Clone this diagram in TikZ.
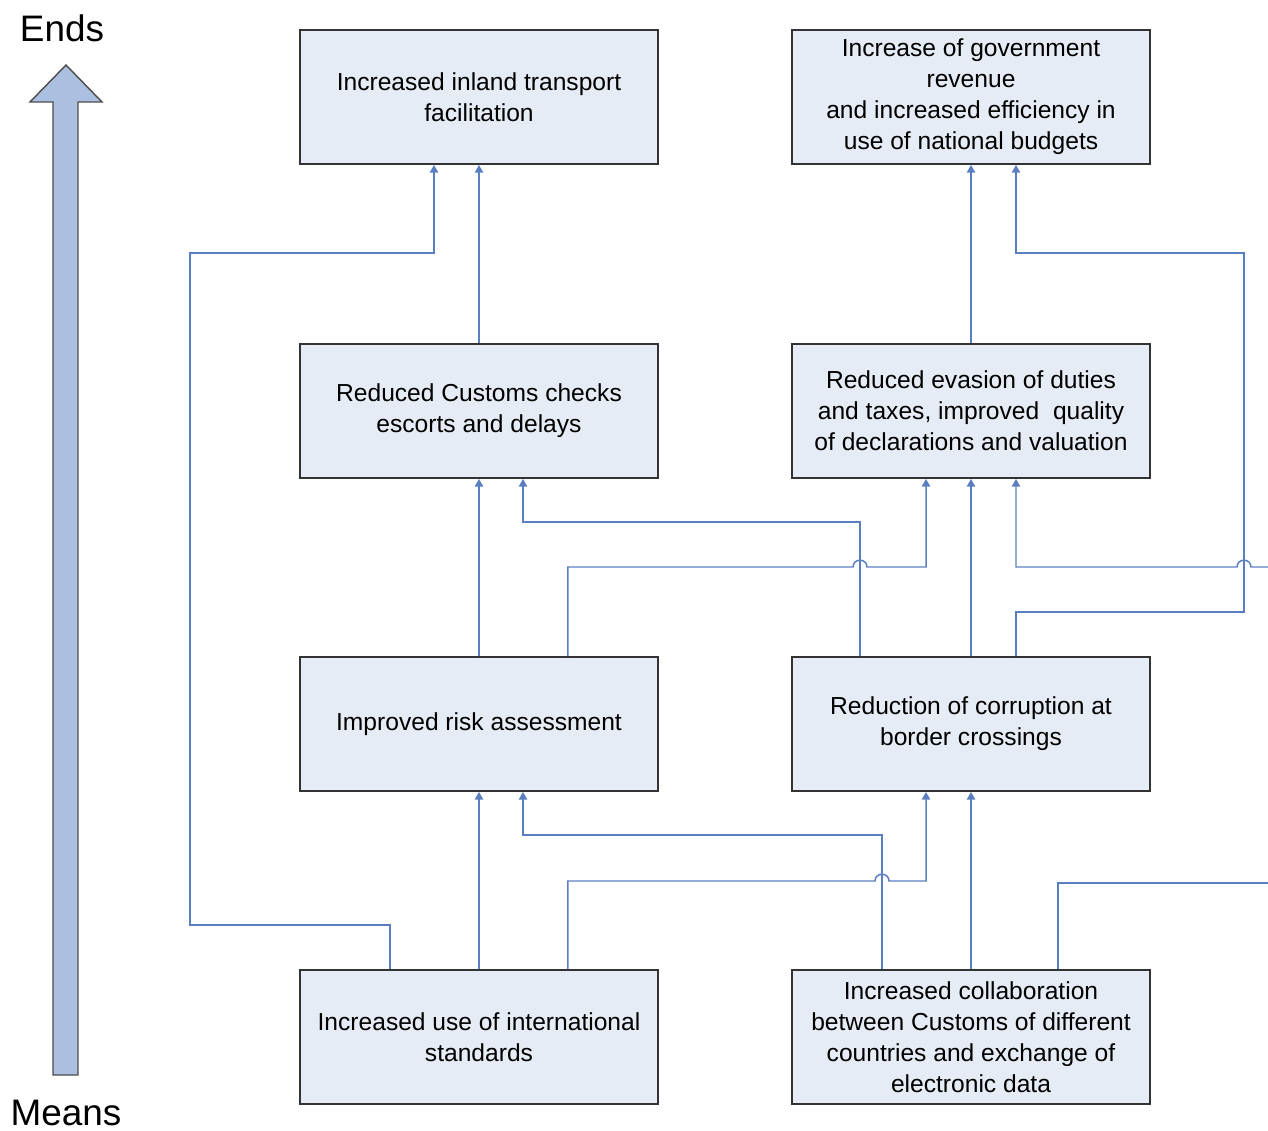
\documentclass[tikz,border=0pt]{standalone}
\usepackage{fontspec}
\setmainfont{Liberation Sans}
\usetikzlibrary{arrows.meta}

\definecolor{boxfill}{HTML}{E6ECF5}
\definecolor{linkblue}{HTML}{5A7FC0}
\definecolor{bigarrow}{HTML}{ABC0E0}

\tikzset{
  goal/.style={draw=black!80, line width=1.1pt, fill=boxfill, rectangle,
    minimum width=7.16cm, minimum height=2.68cm, align=center,
    font=\fontsize{14}{17.6}\selectfont},
  link/.style={draw=linkblue, line width=0.85pt,
    -{Triangle[width=4.8pt,length=4.4pt]}},
  plain/.style={draw=linkblue, line width=0.85pt},
  axis/.style={inner sep=0pt, font=\fontsize{21}{24}\selectfont}
}

\begin{document}
\begin{tikzpicture}[x=0.02cm, y=-0.02cm]
\useasboundingbox (0,0) rectangle (1268,1131);

% Ends / means arrow
\node[axis] (ends) at (62,28) {Ends};
\node[axis] (means) at (66,1113) {Means};
\draw[draw=black!70, line width=0.8pt, fill=bigarrow]
  (53,1075) -- (53,102) -- (30,102) -- (66,65) -- (102,102) -- (78,102) -- (78,1075) -- cycle;

% Ends
\node[goal] (transport) at (479,97) {Increased inland transport\\facilitation};
\node[goal] (revenue) at (971,97) {Increase of government\\revenue\\and increased efficiency in\\use of national budgets};

% Intermediate results
\node[goal] (checks) at (479,411) {Reduced Customs checks\\escorts and delays};
\node[goal] (evasion) at (971,411) {Reduced evasion of duties\\and taxes, improved\ \ quality\\of declarations and valuation};
\node[goal] (risk) at (479,724) {Improved risk assessment};
\node[goal] (corrupt) at (971,724) {Reduction of corruption at\\border crossings};

% Means
\node[goal] (standards) at (479,1037) {Increased use of international\\standards};
\node[goal] (collab) at (971,1037) {Increased collaboration\\between Customs of different\\countries and exchange of\\electronic data};

% Free ends at the right edge
\coordinate (edgelow) at (1268,883);
\coordinate (edgehigh) at (1268,567);

% Links into the top row
\draw[link] ([xshift=-1.78cm]standards.north) |- (190,925) -- (190,253) -| ([xshift=-0.9cm]transport.south);
\draw[link] (checks.north) -- (transport.south);
\draw[link] (evasion.north) -- (revenue.south);
\draw[link] ([xshift=0.9cm]corrupt.north) |- (1244,612) -- (1244,253) -| ([xshift=0.9cm]revenue.south);

% Links into the second row
\draw[link] (risk.north) -- (checks.south);
\draw[link] ([xshift=-2.22cm]corrupt.north) |- (860,522) -| ([xshift=0.88cm]checks.south);
\draw[link] ([xshift=1.78cm]risk.north) |- (853,567)
  .. controls (853,558) and (867,558) .. (867,567) -| ([xshift=-0.9cm]evasion.south);
\draw[link] (corrupt.north) -- (evasion.south);
\draw[link] (edgehigh) -- (1251,567)
  .. controls (1251,558) and (1237,558) .. (1237,567) -| ([xshift=0.9cm]evasion.south);

% Links into the third row
\draw[link] (standards.north) -- (risk.south);
\draw[link] ([xshift=-1.78cm]collab.north) |- (882,835) -| ([xshift=0.88cm]risk.south);
\draw[link] ([xshift=1.78cm]standards.north) |- (875,881)
  .. controls (875,872) and (889,872) .. (889,881) -| ([xshift=-0.9cm]corrupt.south);
\draw[link] (collab.north) -- (corrupt.south);
\draw[plain] ([xshift=1.74cm]collab.north) |- (edgelow);
\end{tikzpicture}
\end{document}
